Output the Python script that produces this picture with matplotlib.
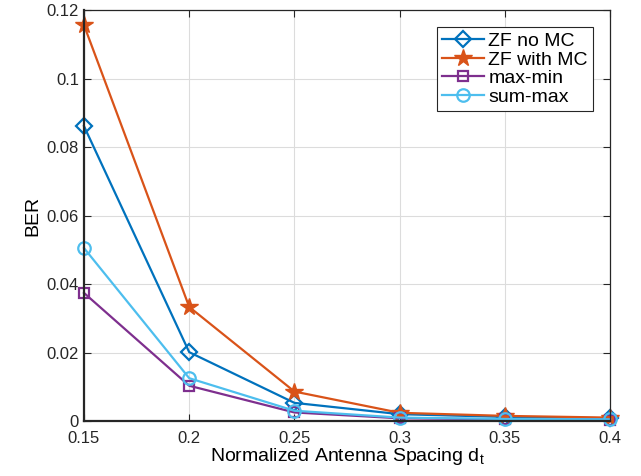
import numpy as np
import matplotlib.pyplot as plt

plt.rcParams['font.family'] = ['Liberation Sans', 'DejaVu Sans']
plt.rcParams['mathtext.fontset'] = 'custom'
plt.rcParams['mathtext.rm'] = 'Liberation Sans'
plt.rcParams['mathtext.it'] = 'Liberation Sans'

# data
spacing = [0.15, 0.2, 0.25, 0.3, 0.35, 0.4]
ber_zf_no_mc = [0.0861, 0.0201, 0.0053, 0.0020, 0.0012, 0.0008]
ber_zf_mc = [0.1156, 0.0333, 0.0086, 0.0024, 0.0015, 0.0010]
ber_maxmin = [0.0374, 0.0103, 0.0025, 0.0008, 0.0005, 0.0004]
ber_summax = [0.0505, 0.0125, 0.0030, 0.0010, 0.0006, 0.0005]

fig = plt.figure(figsize=(6.41, 4.76), dpi=100)
ax = fig.add_axes([0.131, 0.1155, 0.821, 0.8635])

lw = 1.6
ax.plot(spacing, ber_zf_no_mc, '-D', color='#0072BD', lw=lw, ms=8,
        mfc='none', mew=1.6, label='ZF no MC', clip_on=False)
ax.plot(spacing, ber_zf_mc, '-*', color='#D95319', lw=lw, ms=13,
        mew=1.0, label='ZF with MC', clip_on=False)
ax.plot(spacing, ber_maxmin, '-s', color='#7E2F8E', lw=lw, ms=7,
        mfc='none', mew=1.6, label='max-min', clip_on=False)
ax.plot(spacing, ber_summax, '-o', color='#4DBEEE', lw=lw, ms=9,
        mfc='none', mew=1.6, label='sum-max', clip_on=False)

ax.set_xlim(0.15, 0.4)
ax.set_ylim(0, 0.12)
ax.set_xticks([0.15, 0.2, 0.25, 0.3, 0.35, 0.4])
ax.set_xticklabels(['0.15', '0.2', '0.25', '0.3', '0.35', '0.4'])
ax.set_yticks([0, 0.02, 0.04, 0.06, 0.08, 0.1, 0.12])
ax.set_yticklabels(['0', '0.02', '0.04', '0.06', '0.08', '0.1', '0.12'])
ax.grid(True, color='#dcdcdc', lw=0.8)
ax.set_axisbelow(True)
ax.tick_params(direction='in', labelsize=12, colors='#262626', length=5,
               top=True, right=True)
ax.tick_params(axis='x', pad=7)
for s in ax.spines.values():
    s.set_color('#262626')
    s.set_linewidth(0.9)
ax.spines['left'].set_linewidth(1.6)
ax.spines['bottom'].set_linewidth(1.6)

ax.set_xlabel('Normalized Antenna Spacing d$_t$', fontsize=14, labelpad=0)
ax.set_ylabel('BER', fontsize=14, labelpad=4)

leg = ax.legend(loc='upper right', fontsize=14, fancybox=False,
                edgecolor='#262626', framealpha=1, handlelength=2.2,
                handletextpad=0.2, borderpad=0.25, labelspacing=0.05,
                borderaxespad=0.9)
leg.get_frame().set_linewidth(0.8)

fig.savefig('out.png', dpi=100)
